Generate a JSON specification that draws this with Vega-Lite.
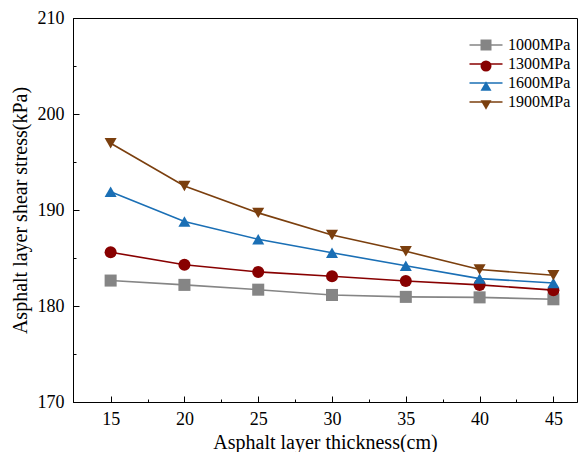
{
  "$schema": "https://vega.github.io/schema/vega-lite/v6.json",
  "width": 504,
  "height": 384,
  "autosize": {"type": "none"},
  "padding": {"left": 73, "top": 18, "right": 2, "bottom": 50},
  "config": {
    "font": "Liberation Serif",
    "view": {"stroke": "black", "strokeWidth": 1},
    "axis": {
      "grid": false,
      "domainColor": "black",
      "tickColor": "black",
      "labelColor": "black",
      "titleColor": "black",
      "labelFont": "Liberation Serif",
      "titleFont": "Liberation Serif",
      "labelFontSize": 18,
      "titleFontSize": 20,
      "titleFontWeight": "normal"
    },
    "legend": {"labelFont": "Liberation Serif", "labelFontSize": 16, "labelColor": "black"}
  },
  "data": {
    "values": [
      {"thickness": 15, "series": "1000MPa", "stress": 182.65},
      {"thickness": 20, "series": "1000MPa", "stress": 182.2},
      {"thickness": 25, "series": "1000MPa", "stress": 181.7},
      {"thickness": 30, "series": "1000MPa", "stress": 181.15},
      {"thickness": 35, "series": "1000MPa", "stress": 180.95},
      {"thickness": 40, "series": "1000MPa", "stress": 180.9},
      {"thickness": 45, "series": "1000MPa", "stress": 180.7},
      {"thickness": 15, "series": "1300MPa", "stress": 185.6},
      {"thickness": 20, "series": "1300MPa", "stress": 184.3},
      {"thickness": 25, "series": "1300MPa", "stress": 183.55},
      {"thickness": 30, "series": "1300MPa", "stress": 183.1},
      {"thickness": 35, "series": "1300MPa", "stress": 182.6},
      {"thickness": 40, "series": "1300MPa", "stress": 182.2},
      {"thickness": 45, "series": "1300MPa", "stress": 181.65},
      {"thickness": 15, "series": "1600MPa", "stress": 191.9},
      {"thickness": 20, "series": "1600MPa", "stress": 188.8},
      {"thickness": 25, "series": "1600MPa", "stress": 186.95},
      {"thickness": 30, "series": "1600MPa", "stress": 185.55},
      {"thickness": 35, "series": "1600MPa", "stress": 184.2},
      {"thickness": 40, "series": "1600MPa", "stress": 182.85},
      {"thickness": 45, "series": "1600MPa", "stress": 182.4},
      {"thickness": 15, "series": "1900MPa", "stress": 196.95},
      {"thickness": 20, "series": "1900MPa", "stress": 192.5},
      {"thickness": 25, "series": "1900MPa", "stress": 189.7},
      {"thickness": 30, "series": "1900MPa", "stress": 187.4},
      {"thickness": 35, "series": "1900MPa", "stress": 185.7},
      {"thickness": 40, "series": "1900MPa", "stress": 183.8},
      {"thickness": 45, "series": "1900MPa", "stress": 183.2}
    ]
  },
  "layer": [
    {
      "mark": {"type": "line", "strokeWidth": 1.6},
      "encoding": {
        "x": {
          "field": "thickness", "type": "quantitative",
          "scale": {"domain": [12.45, 46.6], "nice": false, "zero": false},
          "axis": {
            "orient": "bottom",
            "values": [15, 20, 25, 30, 35, 40, 45],
            "tickSize": -6,
            "labelPadding": 14,
            "title": "Asphalt layer thickness(cm)",
            "titlePadding": 4
          }
        },
        "y": {
          "field": "stress", "type": "quantitative",
          "scale": {"domain": [170, 210], "nice": false, "zero": false},
          "axis": {
            "orient": "left",
            "values": [170, 180, 190, 200, 210],
            "tickSize": -6,
            "labelPadding": 15,
            "title": "Asphalt layer shear stress(kPa)",
            "titlePadding": 7
          }
        },
        "color": {
          "field": "series", "type": "nominal",
          "scale": {
            "domain": ["1000MPa", "1300MPa", "1600MPa", "1900MPa"],
            "range": ["#858585", "#880000", "#1a6fb5", "#7b3f0e"]
          },
          "legend": {
            "title": null,
            "orient": "none",
            "legendX": 405,
            "legendY": 19,
            "padding": 0,
            "symbolType": "M-3,0H3",
            "symbolSize": 121,
            "symbolStrokeWidth": 1.6,
            "labelOffset": 14,
            "rowPadding": 3
          }
        }
      }
    },
    {
      "mark": {"type": "point", "filled": true, "size": 145, "opacity": 1},
      "encoding": {
        "x": {
          "field": "thickness", "type": "quantitative",
          "axis": {
            "orient": "bottom",
            "values": [17.5, 22.5, 27.5, 32.5, 37.5, 42.5],
            "tickSize": -3,
            "labels": false,
            "domain": false,
            "title": null
          }
        },
        "y": {
          "field": "stress", "type": "quantitative",
          "axis": {
            "orient": "left",
            "values": [175, 185, 195, 205],
            "tickSize": -3,
            "labels": false,
            "domain": false,
            "title": null
          }
        },
        "fill": {
          "field": "series", "type": "nominal",
          "scale": {"range": ["#858585", "#880000", "#1a6fb5", "#7b3f0e"]},
          "legend": {
            "title": null,
            "orient": "none",
            "legendX": 405,
            "legendY": 19,
            "padding": 0,
            "symbolSize": 121,
            "labelExpr": "''",
            "rowPadding": 3
          }
        },
        "shape": {
          "field": "series", "type": "nominal",
          "scale": {"range": ["square", "circle", "triangle-up", "triangle-down"]},
          "legend": {
            "title": null,
            "orient": "none",
            "legendX": 405,
            "legendY": 19,
            "padding": 0,
            "symbolSize": 121,
            "labelExpr": "''",
            "rowPadding": 3
          }
        }
      }
    }
  ],
  "resolve": {"axis": {"x": "independent", "y": "independent"}}
}
